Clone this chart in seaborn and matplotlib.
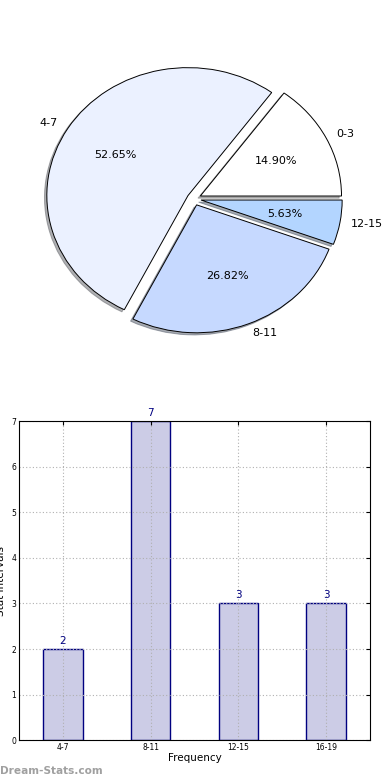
import numpy as np
import pandas as pd
import seaborn as sns
import matplotlib
matplotlib.use("Agg")
import matplotlib.pyplot as plt

# Pie data
pie_labels = ["0-3", "4-7", "8-11", "12-15"]
pie_shares = [14.90, 52.65, 26.82, 5.63]
pie_colors = ["#ffffff", "#ebf1ff", "#c6d9ff", "#b3d5ff"]

# Bar data
bar_cats = ["4-7", "8-11", "12-15", "16-19"]
bar_vals = [2, 7, 3, 3]

sns.set_style("white")
plt.rcParams["font.family"] = ["DejaVu Sans"]
plt.rcParams["text.color"] = "black"
plt.rcParams["axes.labelcolor"] = "black"
plt.rcParams["xtick.color"] = "black"
plt.rcParams["ytick.color"] = "black"

fig = plt.figure(figsize=(3.9, 7.8), dpi=100)

# Pie chart on top
ax1 = fig.add_axes([0.045, 0.54, 0.905, 0.41])
wedges, texts, autotexts = ax1.pie(
    pie_shares, labels=pie_labels, colors=pie_colors,
    explode=[0.05] * len(pie_shares),
    shadow={"ox": -0.012, "oy": -0.012, "shade": 0.6}, startangle=0,
    autopct="%.2f%%", pctdistance=0.6, labeldistance=1.08,
    wedgeprops={"edgecolor": "black", "linewidth": 0.7},
    textprops={"fontsize": 8, "color": "black"})
ax1.set_aspect("auto")
ax1.set_xlim(-1.25, 1.25)
ax1.set_ylim(-1.25, 1.25)

# Bar chart below
ax2 = fig.add_axes([0.049, 0.051, 0.9, 0.409])
df = pd.DataFrame({"cat": bar_cats, "val": bar_vals})
sns.barplot(data=df, x="cat", y="val", ax=ax2, color="#ccccE6",
            saturation=1, edgecolor="#000080", linewidth=1, width=0.45)
ax2.set_xlim(-0.5, 3.5)
ax2.set_ylim(0, 7)
ax2.set_yticks(range(8))
ax2.grid(True, linestyle=(0, (1, 2)), color="#b0b0b0", linewidth=0.8)
ax2.set_axisbelow(False)
for p in ax2.patches:
    p.set_zorder(1)
ax2.tick_params(labelsize=5.5, direction="in", top=True, right=True,
                length=3, pad=2)
for s in ax2.spines.values():
    s.set_color("black")
    s.set_linewidth(0.8)
    s.set_zorder(3)
ax2.set_xlabel("Frequency", fontsize=7.5, labelpad=1)
ax2.set_ylabel("Stat Intervals", fontsize=7.5, labelpad=4)
for i, v in enumerate(bar_vals):
    ax2.text(i, v + 0.07, str(v), ha="center", va="bottom",
             color="#000080", fontsize=7.5)

fig.text(0.0, 0.005, "Dream-Stats.com", color="#a0a0a0", fontsize=7.6,
         fontweight="bold", ha="left", va="bottom")

fig.savefig("out.png", dpi=100)
